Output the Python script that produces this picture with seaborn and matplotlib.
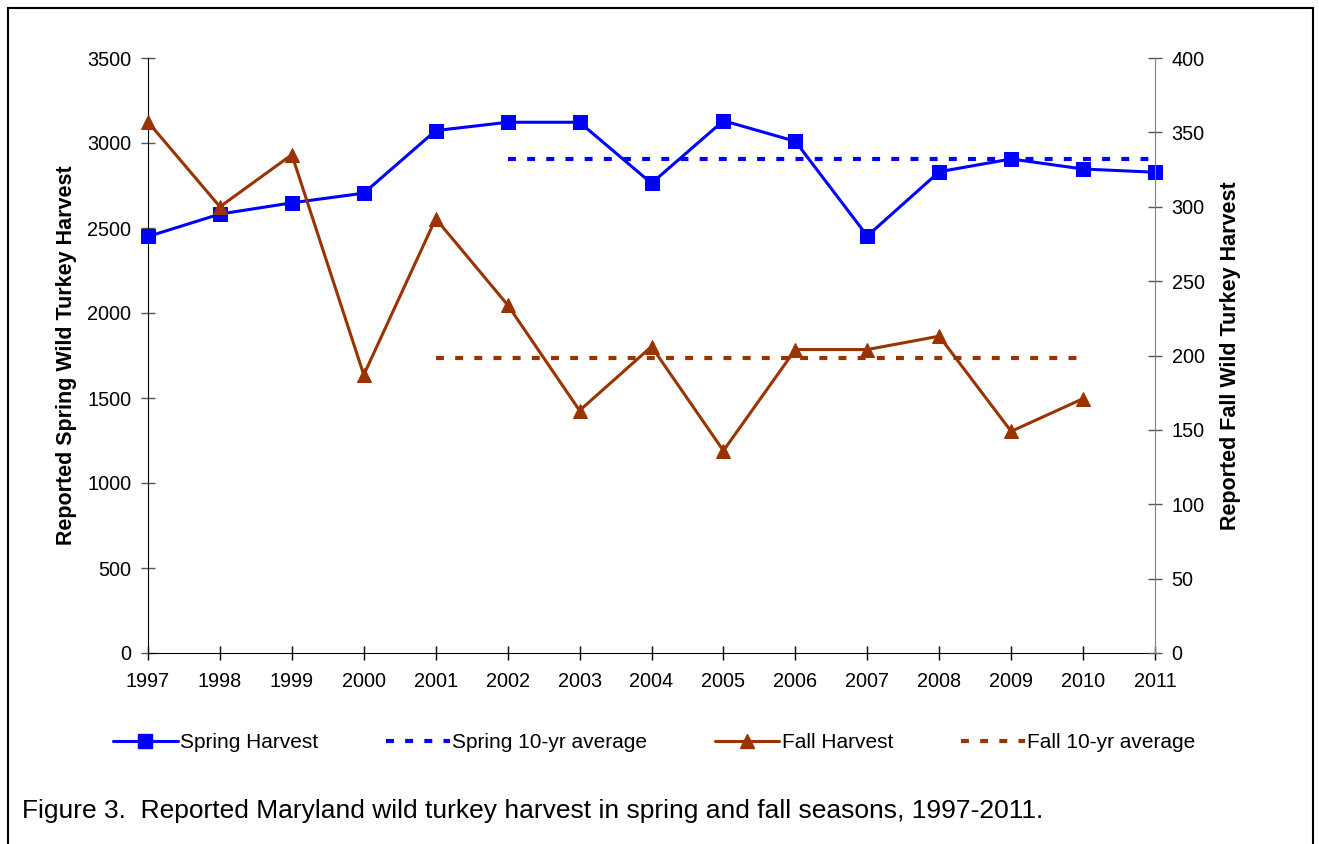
import matplotlib
matplotlib.use('Agg')
import matplotlib.pyplot as plt
from matplotlib.lines import Line2D
from matplotlib.patches import Rectangle
import seaborn as sns

# Dados
years = [1997, 1998, 1999, 2000, 2001, 2002, 2003, 2004, 2005, 2006, 2007, 2008, 2009, 2010, 2011]
spring_harvest = [2450, 2582, 2648, 2705, 3073, 3122, 3122, 2763, 3131, 3010, 2453, 2831, 2906, 2847, 2828]
fall_years = [1997, 1998, 1999, 2000, 2001, 2002, 2003, 2004, 2005, 2006, 2007, 2008, 2009, 2010]
fall_harvest = [357, 300, 335, 187, 292, 234, 163, 206, 136, 204, 204, 213, 149, 171]
spring_avg_years = [2002, 2011]
spring_avg = [2906, 2906]
fall_avg_years = [2001, 2010]
fall_avg = [198, 198]

left_ticks = [0, 500, 1000, 1500, 2000, 2500, 3000, 3500]
right_ticks = [0, 50, 100, 150, 200, 250, 300, 350, 400]

blue = '#0000FF'
brown = '#993300'

sns.set_style('white')
plt.rcParams['font.family'] = ['Liberation Sans', 'DejaVu Sans']
plt.rcParams['text.color'] = 'black'
plt.rcParams['axes.labelcolor'] = 'black'
plt.rcParams['xtick.labelcolor'] = 'black'
plt.rcParams['ytick.labelcolor'] = 'black'

fig = plt.figure(figsize=(13.19, 8.44), dpi=100)
ax = fig.add_axes([148 / 1319, 1 - 653 / 844, 1007 / 1319, 595 / 844])
ax2 = ax.twinx()

# Colheita de primavera (eixo esquerdo)
sns.lineplot(x=years, y=spring_harvest, ax=ax, color=blue, linewidth=2.2,
             marker='s', markersize=10, markeredgecolor=blue, clip_on=False, zorder=3)
sns.lineplot(x=spring_avg_years, y=spring_avg, ax=ax, color=blue, linewidth=3,
             dashes=(1.9, 2.7), zorder=2)

# Colheita de outono (eixo direito)
sns.lineplot(x=fall_years, y=fall_harvest, ax=ax2, color=brown, linewidth=2.2,
             marker='^', markersize=10, markeredgecolor=brown, clip_on=False, zorder=3)
sns.lineplot(x=fall_avg_years, y=fall_avg, ax=ax2, color=brown, linewidth=3,
             dashes=(1.9, 2.7), zorder=2)

ax.set_xlim(1997, 2011)
ax.set_ylim(0, 3500)
ax2.set_ylim(0, 400)
ax.set_xticks(years)
ax.set_xticklabels([str(y) for y in years])
ax.set_yticks(left_ticks)
ax2.set_yticks(right_ticks)

for s in ['top', 'right']:
    ax.spines[s].set_visible(False)
for s in ['top', 'left', 'bottom']:
    ax2.spines[s].set_visible(False)
ax.spines['left'].set_color('black')
ax.spines['bottom'].set_color('black')
ax2.spines['right'].set_color('#808080')

ax.tick_params(axis='y', direction='inout', length=10, width=1, color='#555555',
               labelsize=14.3, pad=7, left=True)
ax.tick_params(axis='x', direction='inout', length=10, width=1, color='black',
               labelsize=14.3, pad=9, bottom=True)
ax2.tick_params(axis='y', direction='inout', length=10, width=1, color='#555555',
                labelsize=14.3, pad=7, right=True)

ax.set_xlabel('')
ax.set_ylabel('Reported Spring Wild Turkey Harvest', fontsize=15.5, fontweight='bold', labelpad=7.5)
ax2.set_ylabel('Reported Fall Wild Turkey Harvest', fontsize=15.5, fontweight='bold', labelpad=11)

# Legenda
handles = [
    Line2D([], [], color=blue, linewidth=2.2, marker='s', markersize=10),
    Line2D([], [], color=blue, linewidth=3, dashes=(1.9, 2.7)),
    Line2D([], [], color=brown, linewidth=2.2, marker='^', markersize=10),
    Line2D([], [], color=brown, linewidth=3, dashes=(1.9, 2.7)),
]
labels = ['Spring Harvest', 'Spring 10-yr average', 'Fall Harvest', 'Fall 10-yr average']
fig.legend(handles, labels, loc='center left', bbox_to_anchor=(113 / 1319, 1 - 743 / 844),
           ncol=4, frameon=False, fontsize=15, handlelength=3.1, handletextpad=0.1,
           columnspacing=3.25, borderpad=0, borderaxespad=0, numpoints=1)

# Legenda da figura
fig.text(22 / 1319, 1 - 811 / 844,
         'Figure 3.  Reported Maryland wild turkey harvest in spring and fall seasons, 1997-2011.',
         fontsize=19, ha='left', va='center')

# Moldura
fig.patches.append(Rectangle((8 / 1319, -0.05), 1305 / 1319, 1.05 - 8 / 844,
                             transform=fig.transFigure, fill=False, edgecolor='black',
                             linewidth=1.5, zorder=10))

fig.savefig('out.png', dpi=100)
